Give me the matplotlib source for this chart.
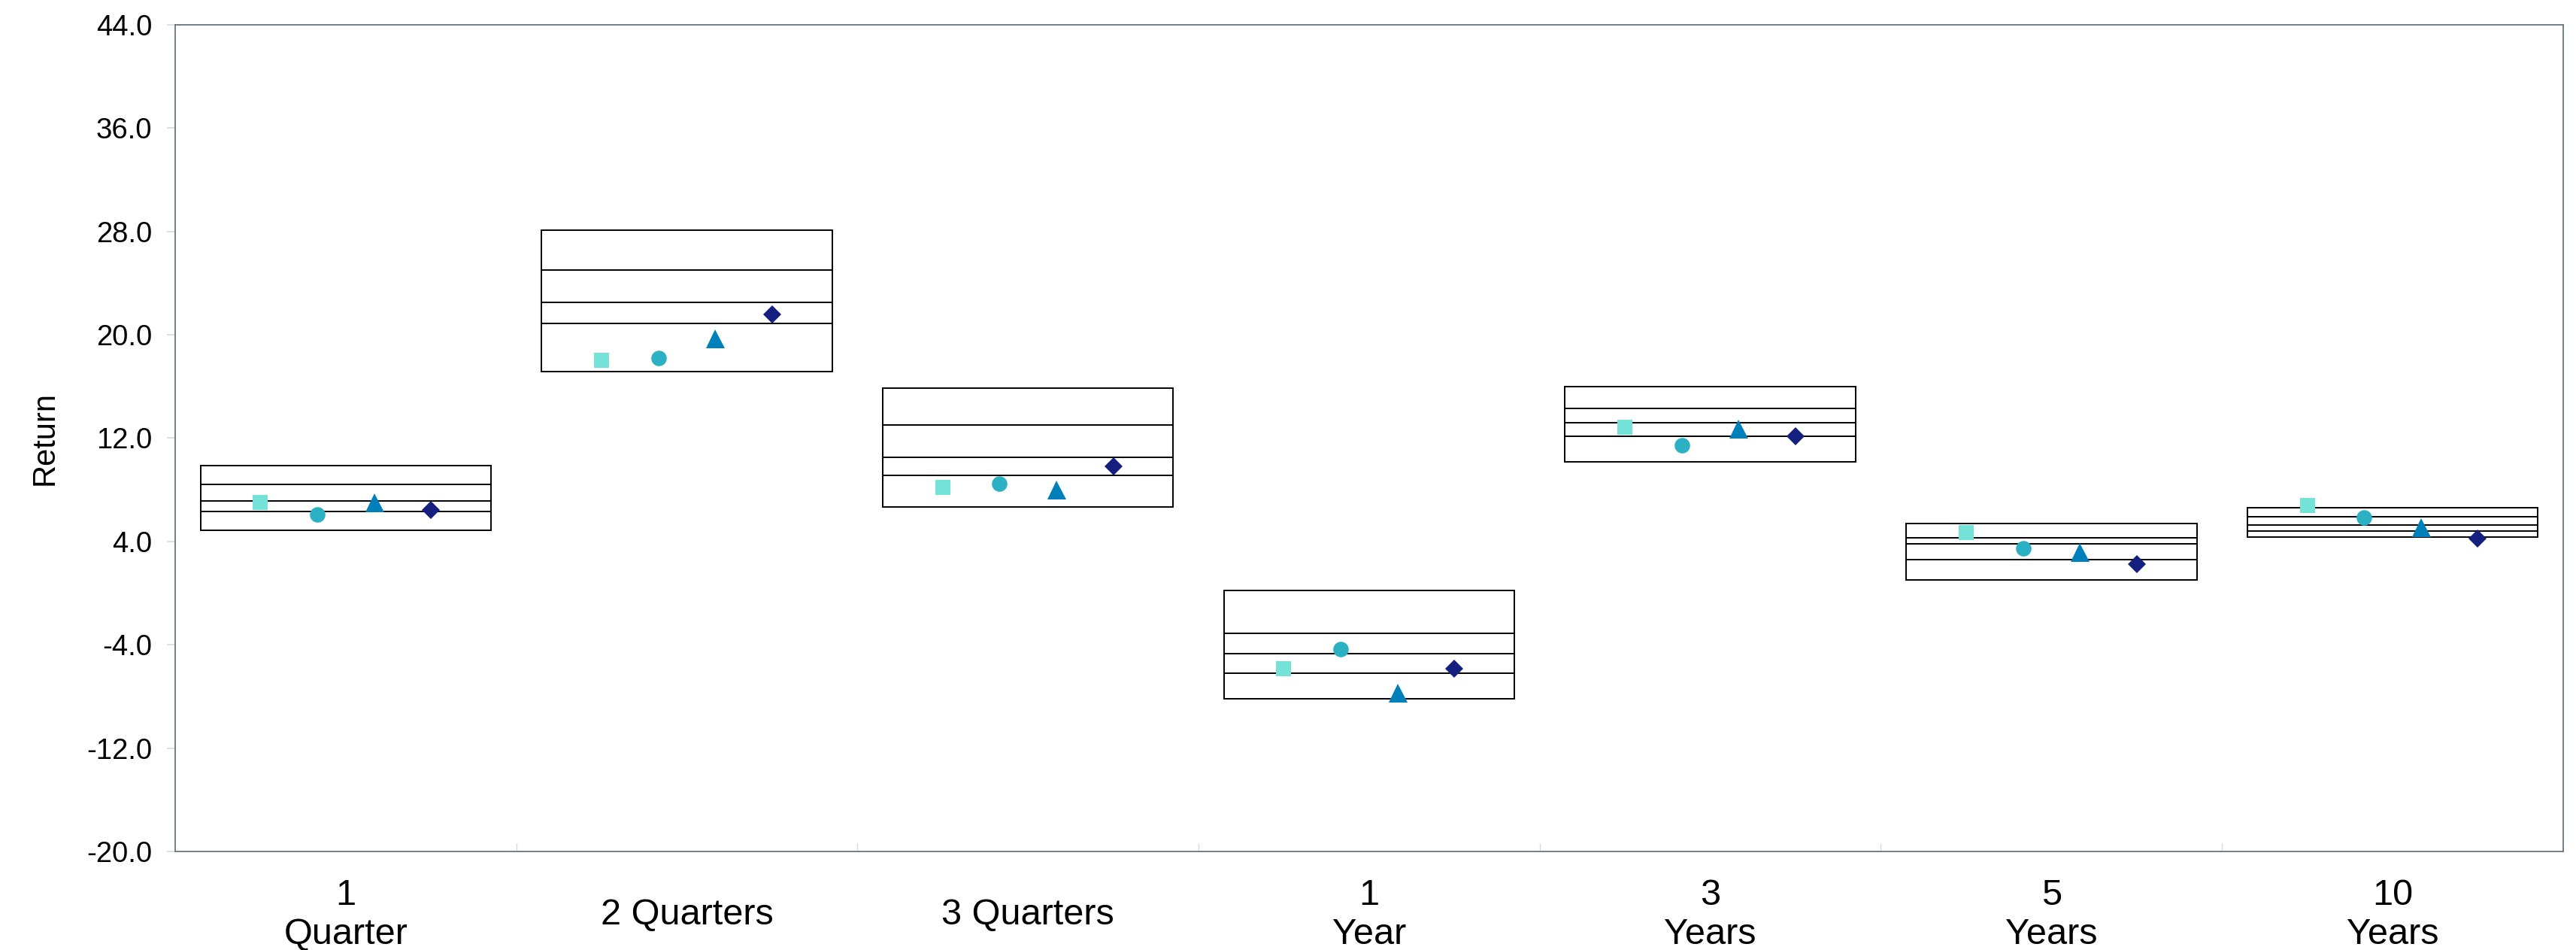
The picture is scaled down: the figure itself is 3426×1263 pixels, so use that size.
import matplotlib
matplotlib.use("Agg")
import matplotlib.pyplot as plt
from matplotlib.ticker import FixedLocator, FormatStrFormatter
import numpy as np

plt.rcParams['font.family'] = ['Liberation Sans', 'DejaVu Sans']

# ---- data ----
categories = ["1\nQuarter", "2 Quarters", "3 Quarters", "1\nYear", "3\nYears", "5\nYears", "10\nYears"]

# box boundaries (top to bottom)
pct95 = [9.85, 28.1, 15.9, 0.2, 16.0, 5.4, 6.6]
pct75 = [8.4, 25.0, 13.0, -3.1, 14.3, 4.3, 5.9]
pct50 = [7.15, 22.5, 10.5, -4.7, 13.2, 3.8, 5.3]
pct25 = [6.35, 20.9, 9.1, -6.2, 12.15, 2.6, 4.8]
pct05 = [4.85, 17.15, 6.7, -8.2, 10.15, 1.0, 4.35]

# marker series
series_square = [7.05, 18.0, 8.2, -5.85, 12.85, 4.7, 6.8]
series_circle = [6.1, 18.2, 8.5, -4.35, 11.45, 3.45, 5.85]
series_triangle = [7.0, 19.7, 8.0, -7.7, 12.75, 3.2, 5.1]
series_diamond = [6.45, 21.6, 9.8, -5.85, 12.15, 2.25, 4.25]

yticks = [-20.0, -12.0, -4.0, 4.0, 12.0, 20.0, 28.0, 36.0, 44.0]

# ---- figure ----
fig = plt.figure(figsize=(34.26, 12.63), dpi=100)
ax = fig.add_axes([0.068, 0.1037, 0.927, 0.8702])

x = np.arange(len(categories))
box_w = 0.852
lw_box = 1.4

top = np.array(pct95)
bot = np.array(pct05)
ax.bar(x, top - bot, bottom=bot, width=box_w, fill=False,
       edgecolor='black', linewidth=lw_box, zorder=2)
for arr in (pct75, pct50, pct25):
    ax.hlines(arr, x - box_w / 2, x + box_w / 2, colors='black',
              linewidth=lw_box, zorder=2)

specs = [
    (series_square, 's', '#75E2D8', 15.1, -0.25),
    (series_circle, 'o', '#2BB0C4', 14.8, -0.0833),
    (series_triangle, '^', '#0080BA', 18.0, 0.0833),
    (series_diamond, 'D', '#141F80', 12.2, 0.25),
]
for vals, mk, col, ms, off in specs:
    ax.plot(x + off, vals, linestyle='none', marker=mk, color=col,
            markersize=ms, markeredgewidth=0, zorder=3)

ax.set_xlim(-0.5, len(categories) - 0.5)
ax.set_ylim(-20, 44)

# y axis
ax.yaxis.set_major_locator(FixedLocator(yticks))
ax.yaxis.set_major_formatter(FormatStrFormatter('%.1f'))
ax.tick_params(axis='y', which='major', length=8, width=1.2, color='#D9D9D9',
               pad=14, labelsize=27.5, labelcolor='black')
ax.set_ylabel('Return', fontsize=30, va='center')
ax.yaxis.set_label_coords(-0.0545, 0.5)

# x axis
ax.set_xticks(x)
ax.set_xticklabels(categories, fontsize=35, va='center', ha='center',
                   linespacing=1.2)
ax.tick_params(axis='x', which='major', length=0, pad=61)
ax.xaxis.set_minor_locator(FixedLocator(np.arange(0.5, len(categories) - 0.5, 1.0)))
ax.tick_params(axis='x', which='minor', direction='in', length=8, width=1.0,
               color='#D9D9D9')

for s in ax.spines.values():
    s.set_color('#687684')
    s.set_linewidth(1.3)

fig.savefig('out.png', dpi=100, facecolor='white')
